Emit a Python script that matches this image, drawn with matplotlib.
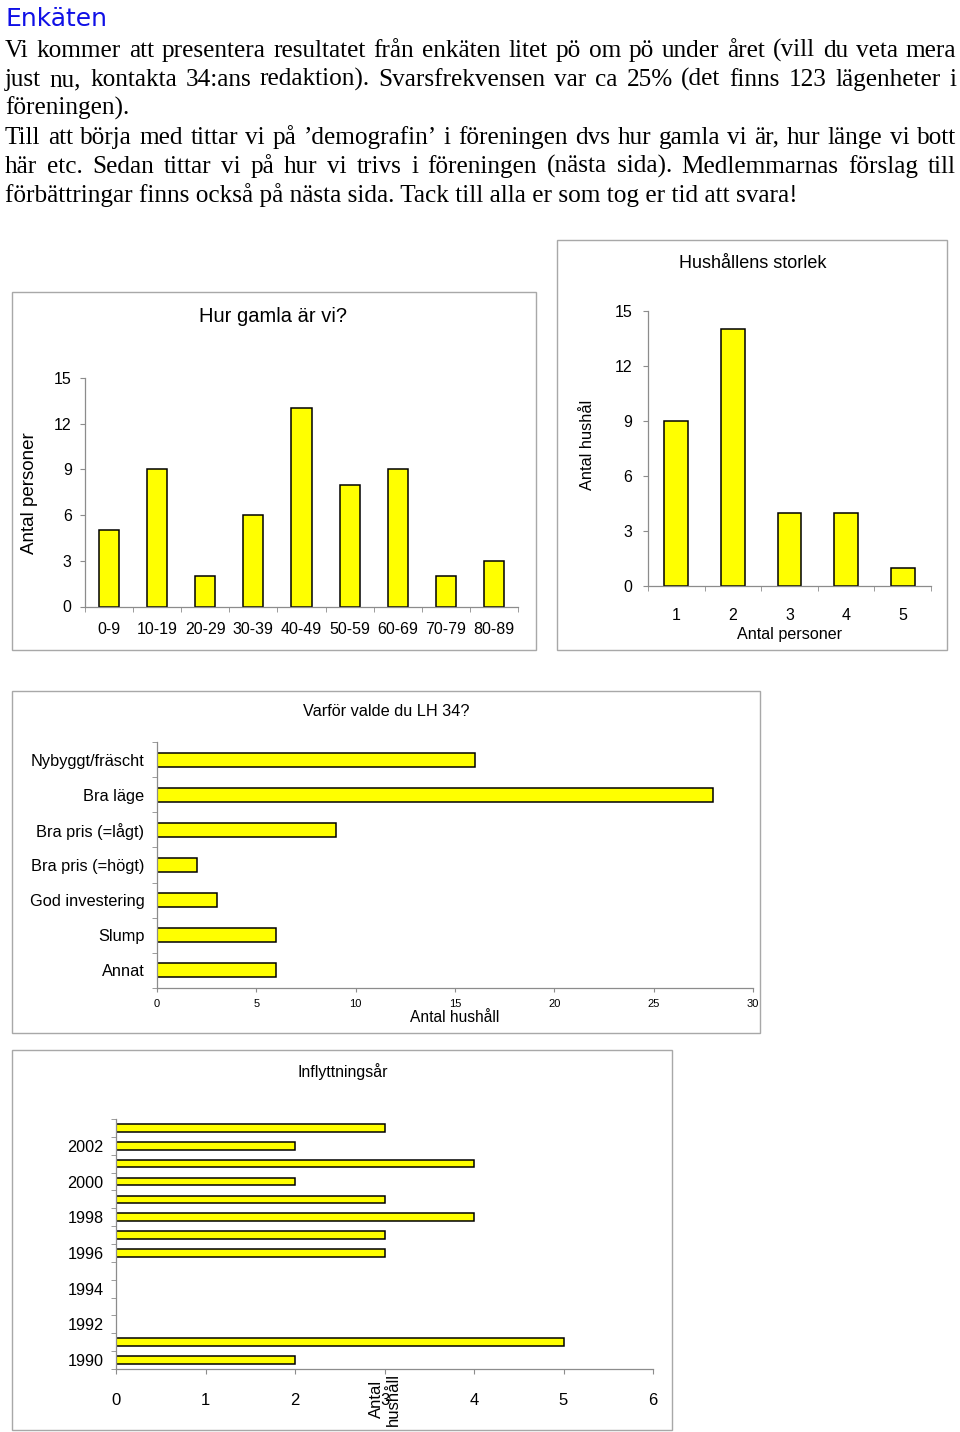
import matplotlib
matplotlib.use("Agg")
import matplotlib.pyplot as plt
import numpy as np
from matplotlib.patches import Rectangle

W, H = 960, 1432
SANS = "Liberation Sans"
SERIF = "Liberation Serif"
YELLOW = "#FFFF00"
AXIS = "#8c8c8c"
FRAME = "#a8a8a8"
BODY_SIZE = 18.2

# --- data -------------------------------------------------------------------
heading = "Enkäten"
intro_lines = [
    ("Vi kommer att presentera resultatet från enkäten litet pö om pö under året (vill du veta mera", True),
    ("just nu, kontakta 34:ans redaktion). Svarsfrekvensen var ca 25% (det finns 123 lägenheter i", True),
    ("föreningen).", False),
    ("Till att börja med tittar vi på ’demografin’ i föreningen dvs hur gamla vi är, hur länge vi bott", True),
    ("här etc. Sedan tittar vi på hur vi trivs i föreningen (nästa sida). Medlemmarnas förslag till", True),
    ("förbättringar finns också på nästa sida. Tack till alla er som tog er tid att svara!", False),
]

age_groups = ["0-9", "10-19", "20-29", "30-39", "40-49", "50-59", "60-69", "70-79", "80-89"]
age_counts = [5, 9, 2, 6, 13, 8, 9, 2, 3]

household_sizes = ["1", "2", "3", "4", "5"]
household_counts = [9, 14, 4, 4, 1]

reasons = ["Nybyggt/fräscht", "Bra läge", "Bra pris (=lågt)", "Bra pris (=högt)",
           "God investering", "Slump", "Annat"]
reason_counts = [16, 28, 9, 2, 3, 6, 6]

move_years = [1990, 1991, 1992, 1993, 1994, 1995, 1996, 1997, 1998, 1999,
              2000, 2001, 2002, 2003]
move_counts = [2, 5, 0, 0, 0, 0, 3, 3, 4, 3, 2, 4, 2, 3]

fig = plt.figure(figsize=(W / 100, H / 100), dpi=100)


def px_axes(x0, y0, x1, y1):
    return fig.add_axes([x0 / W, 1 - y1 / H, (x1 - x0) / W, (y1 - y0) / H])


def frame(x0, y0, x1, y1):
    fig.add_artist(Rectangle((x0 / W, 1 - y1 / H), (x1 - x0) / W, (y1 - y0) / H,
                             transform=fig.transFigure, fill=False, ec=FRAME, lw=1))


def label(x, y, s, size, **kw):
    fig.text(x / W, 1 - y / H, s, fontsize=size, family=SANS,
             ha="center", va="center", **kw)


def style(ax):
    for side in ("top", "right"):
        ax.spines[side].set_visible(False)
    for side in ("left", "bottom"):
        ax.spines[side].set_color(AXIS)
        ax.spines[side].set_linewidth(0.9)
    ax.patch.set_alpha(0)
    for t in ax.get_xticklabels() + ax.get_yticklabels():
        t.set_family(SANS)


# --- intro text -------------------------------------------------------------
fig.text(5 / W, 1 - 26 / H, heading, fontsize=18, color="#1010E6",
         family="DejaVu Sans", va="baseline")

fig.canvas.draw()
renderer = fig.canvas.get_renderer()
left, right = 5, 956
for i, (line, justify) in enumerate(intro_lines):
    y = 1 - (57 + 29 * i) / H
    if not justify:
        fig.text(left / W, y, line, fontsize=BODY_SIZE, family=SERIF, va="baseline")
        continue
    words = line.split()
    texts = [fig.text(0, y, w, fontsize=BODY_SIZE, family=SERIF, va="baseline") for w in words]
    widths = [t.get_window_extent(renderer).width for t in texts]
    gap = (right - left - sum(widths)) / (len(words) - 1)
    x = left
    for t, w in zip(texts, widths):
        t.set_x(x / W)
        x += w + gap

# --- chart 1: Hur gamla är vi? ---------------------------------------------
frame(12, 292, 536, 650)
ax = px_axes(85, 378, 518, 606.5)
pos = np.arange(len(age_groups))
ax.bar(pos, age_counts, width=0.42, color=YELLOW, edgecolor="black", linewidth=1.1)
ax.set_xlim(-0.5, len(age_groups) - 0.5)
ax.set_ylim(0, 15)
ax.set_yticks(range(0, 16, 3))
ax.set_xticks(pos, age_groups)
ax.set_xticks(np.arange(-0.5, len(age_groups)), minor=True)
ax.tick_params(axis="x", which="major", length=0, pad=11, labelsize=11.5)
ax.tick_params(axis="x", which="minor", length=3.6, color=AXIS)
ax.tick_params(axis="y", length=3.6, color=AXIS, pad=6, labelsize=11.5)
style(ax)
label(273, 316, "Hur gamla är vi?", 14.5)
label(29, 493, "Antal personer", 13.5, rotation=90)

# --- chart 2: Hushållens storlek -------------------------------------------
frame(557, 240, 947, 650)
ax = px_axes(648, 311, 931, 586)
pos = np.arange(1, len(household_sizes) + 1)
ax.bar(pos, household_counts, width=0.42, color=YELLOW, edgecolor="black", linewidth=1.1)
ax.set_xlim(0.5, len(household_sizes) + 0.5)
ax.set_ylim(0, 15)
ax.set_yticks(range(0, 16, 3))
ax.set_xticks(pos, household_sizes)
ax.set_xticks(np.arange(0.5, len(household_sizes) + 1), minor=True)
ax.tick_params(axis="x", which="major", length=0, pad=16, labelsize=11.5)
ax.tick_params(axis="x", which="minor", length=3.6, color=AXIS)
ax.tick_params(axis="y", length=3.6, color=AXIS, pad=7.5, labelsize=11.5)
style(ax)
label(753, 264, "Hushållens storlek", 13)
label(588, 445, "Antal hushål", 11.8, rotation=90)
label(790, 635, "Antal personer", 11.6)

# --- chart 3: Varför valde du LH 34? ---------------------------------------
frame(12, 691, 760, 1033)
ax = px_axes(157, 742, 753, 988)
pos = np.arange(len(reasons))
ax.barh(pos, reason_counts, height=0.4, color=YELLOW, edgecolor="black", linewidth=1.1)
ax.set_ylim(len(reasons) - 0.5, -0.5)
ax.set_xlim(0, 30)
ax.set_xticks(range(0, 31, 5))
ax.set_yticks(pos, reasons)
ax.set_yticks(np.arange(-0.5, len(reasons)), minor=True)
ax.tick_params(axis="y", which="major", length=0, pad=9, labelsize=11.8)
ax.tick_params(axis="y", which="minor", length=3.6, color=AXIS)
ax.tick_params(axis="x", length=3, color=AXIS, pad=5, labelsize=8)
style(ax)
label(386, 712, "Varför valde du LH 34?", 11.7)
label(455, 1018, "Antal hushåll", 11.2)

# --- chart 4: Inflyttningsår -----------------------------------------------
frame(12, 1050, 672, 1430)
ax = px_axes(116, 1119, 653, 1369)
pos = np.arange(len(move_years))
ax.barh(pos, move_counts, height=0.43, color=YELLOW, edgecolor="black", linewidth=1.1)
ax.set_ylim(-0.5, len(move_years) - 0.5)
ax.set_xlim(0, 6)
ax.set_xticks(range(0, 7))
ax.set_yticks(pos[::2], [str(y) for y in move_years[::2]])
ax.set_yticks(np.arange(-0.5, len(move_years)), minor=True)
ax.tick_params(axis="y", which="major", length=0, pad=9, labelsize=11.7)
ax.tick_params(axis="y", which="minor", length=3.6, color=AXIS)
ax.tick_params(axis="x", length=3.6, color=AXIS, pad=14, labelsize=12)
style(ax)
label(343, 1072, "Inflyttningsår", 11.4)
label(385, 1399, "Antal\nhushåll", 12, rotation=90, multialignment="center")

fig.savefig("out.png", dpi=100)
